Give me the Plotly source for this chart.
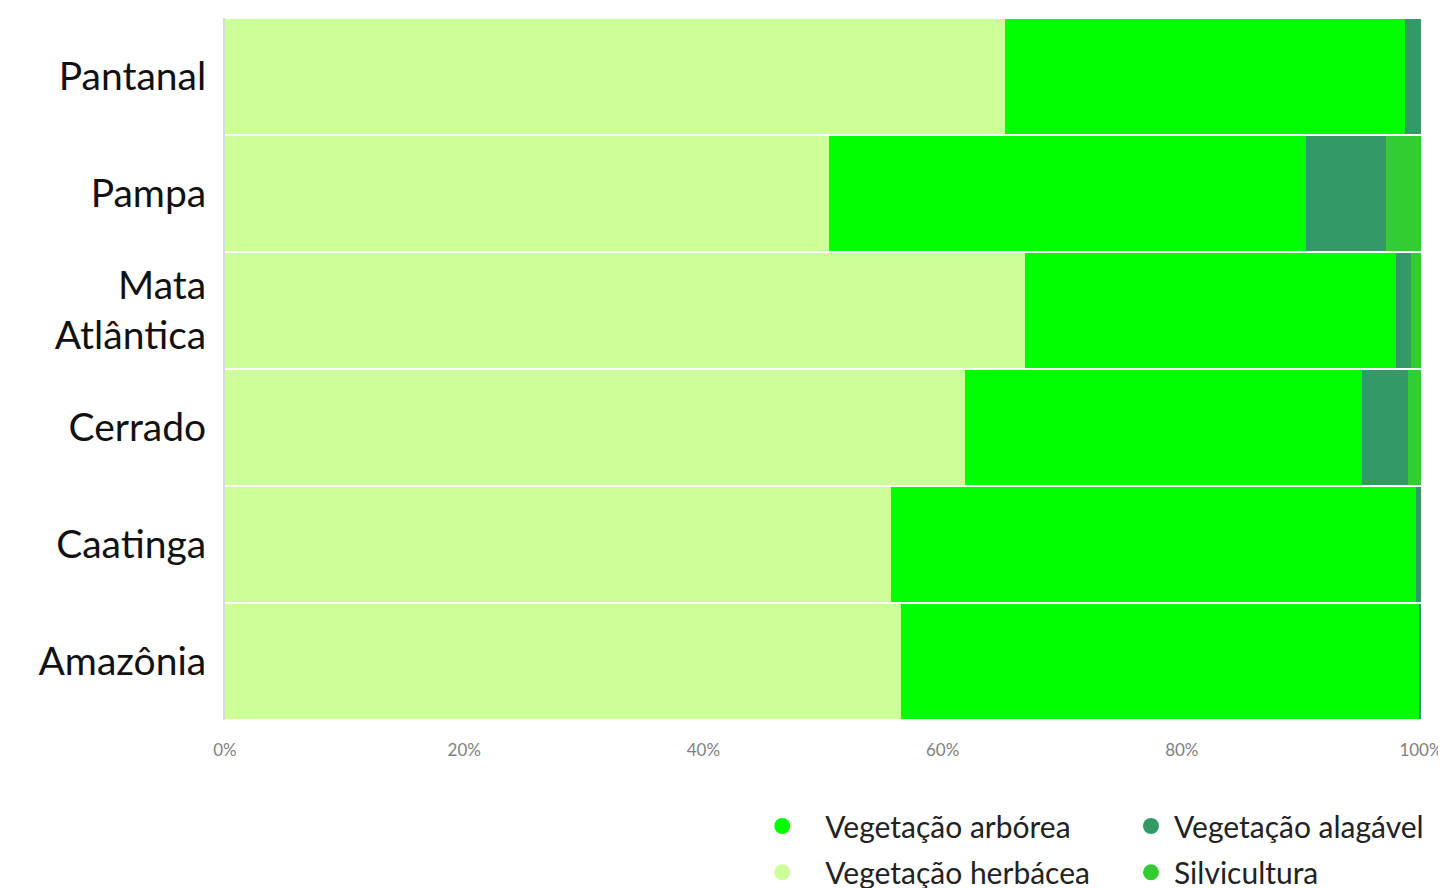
import plotly.graph_objects as go

biomes = ["Amazônia", "Caatinga", "Cerrado", "Mata<br>Atlântica", "Pampa", "Pantanal"]
herbacea = [56.5, 55.7, 61.9, 66.9, 50.5, 65.2]
arborea = [43.3, 43.9, 33.2, 31.0, 39.9, 33.5]
alagavel = [0.2, 0.4, 3.8, 1.3, 6.7, 1.3]
silvicultura = [0.0, 0.0, 1.1, 0.8, 2.9, 0.0]

series = [
    ("Vegetação herbácea", herbacea, "#CCFF99"),
    ("Vegetação arbórea", arborea, "#00FF00"),
    ("Vegetação alagável", alagavel, "#339966"),
    ("Silvicultura", silvicultura, "#33CC33"),
]
legend_order = ["Vegetação arbórea", "Vegetação alagável", "Vegetação herbácea", "Silvicultura"]
colors = {name: c for name, _, c in series}

fig = go.Figure()
for name, vals, color in series:
    fig.add_trace(go.Bar(
        y=biomes, x=vals, name=name, orientation="h",
        marker=dict(color=color, line=dict(width=0)),
        showlegend=False,
    ))

legend_ids = ["legend", "legend2", "legend3", "legend4"]
for lid, name in zip(legend_ids, legend_order):
    fig.add_trace(go.Scatter(
        x=[None], y=[None], mode="markers", name=name,
        marker=dict(color=colors[name], size=30, symbol="circle"),
        legend=lid,
    ))

col_x = [0.43, 0.755]
row_y = [-0.114, -0.18]
item_w = [76, 36]
legend_layout = {}
for k, lid in enumerate(legend_ids):
    col, row = k % 2, k // 2
    legend_layout[lid] = dict(
        x=col_x[col], y=row_y[row], xanchor="left", yanchor="top", orientation="v",
        font=dict(size=30, color="#222222"), itemsizing="trace",
        itemwidth=item_w[col], bgcolor="rgba(0,0,0,0)",
    )

fig.update_layout(
    width=1446, height=880,
    barmode="stack", bargap=0.02,
    margin=dict(l=217, r=33, t=10, b=168, autoexpand=False),
    plot_bgcolor="white", paper_bgcolor="white",
    font=dict(family="Lato, Carlito, sans-serif"),
    xaxis=dict(
        range=[0, 100], dtick=20, ticksuffix="%", showgrid=False, zeroline=False,
        tickfont=dict(size=17, color="#7f7f7f"), ticks="", ticklabelstandoff=18,
        ticklabeloverflow="allow", showline=False, automargin=False,
    ),
    yaxis=dict(
        showgrid=False, zeroline=False, showline=True, linecolor="#d9d9d9", linewidth=2,
        tickfont=dict(size=39, color="#111111"), ticks="", ticklabelstandoff=9,
        automargin=False,
    ),
    **legend_layout,
)

fig.write_html("out.html")
